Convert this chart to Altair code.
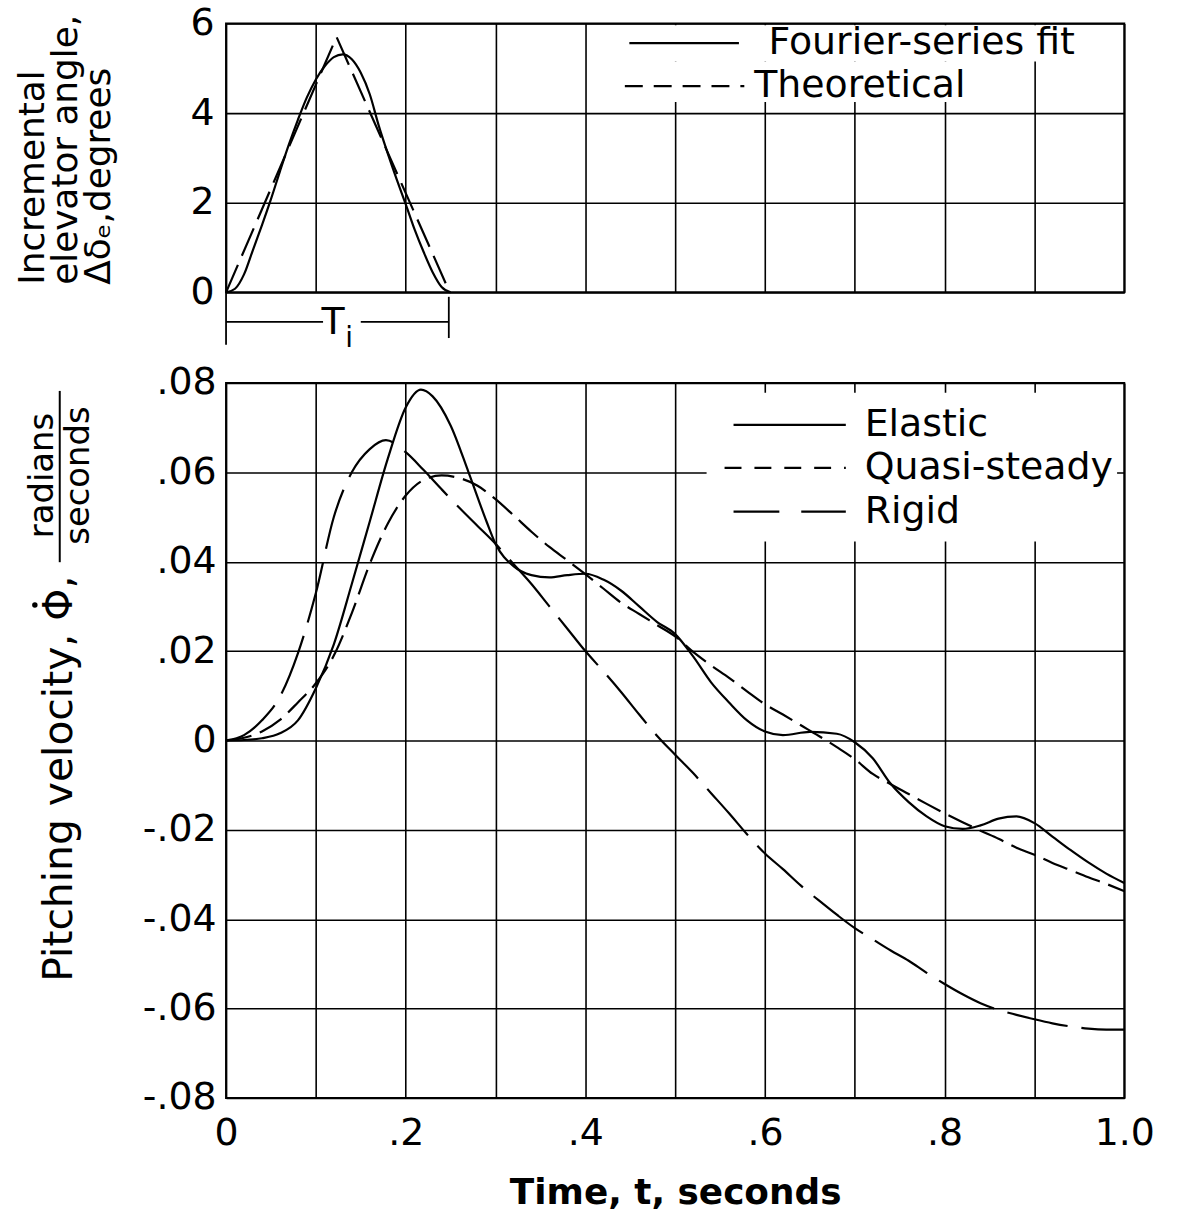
import altair as alt
import pandas as pd

FONT = "DejaVu Sans"

# ---------------- top panel: incremental elevator angle (degrees) ----------------
fourier_t = [0.00, 0.01, 0.02, 0.03, 0.04, 0.05, 0.06, 0.07, 0.08, 0.09, 0.10, 0.11, 0.12,
             0.13, 0.14, 0.15, 0.16, 0.17, 0.18, 0.19, 0.20, 0.21, 0.22, 0.23, 0.24, 0.25]
fourier_deg = [0.0, 0.08, 0.4, 0.95, 1.5, 2.08, 2.7, 3.3, 3.85, 4.35, 4.75, 5.05, 5.25,
               5.31, 5.2, 4.9, 4.42, 3.72, 3.1, 2.52, 1.97, 1.4, 0.9, 0.45, 0.12, 0.0]
theory_t = [0.0, 0.123, 0.249]
theory_deg = [0.0, 5.7, 0.0]

# ---------------- bottom panel: pitching velocity (radians/second) ----------------
elastic_t = [0.00, 0.02, 0.04, 0.06, 0.08, 0.10, 0.12, 0.14, 0.16, 0.18, 0.20, 0.217, 0.23,
             0.25, 0.27, 0.29, 0.30, 0.32, 0.34, 0.36, 0.38, 0.40, 0.42, 0.44, 0.46, 0.48,
             0.50, 0.52, 0.54, 0.56, 0.58, 0.60, 0.62, 0.65, 0.68, 0.70, 0.72, 0.74, 0.76,
             0.78, 0.80, 0.82, 0.84, 0.86, 0.88, 0.90, 0.92, 0.94, 0.96, 0.98, 1.00]
elastic_v = [0.0, 0.0001, 0.0005, 0.0016, 0.0045, 0.0117, 0.0215, 0.0350, 0.0490, 0.0630,
             0.0745, 0.0785, 0.0770, 0.0705, 0.0600, 0.0490, 0.0440, 0.0390, 0.0370, 0.0365,
             0.0370, 0.0373, 0.0360, 0.0335, 0.0300, 0.0265, 0.0238, 0.0188, 0.0130, 0.0085,
             0.0045, 0.0020, 0.0012, 0.0019, 0.0015, -0.0004, -0.0040, -0.0097, -0.0138,
             -0.0170, -0.0192, -0.0198, -0.0190, -0.0175, -0.0170, -0.0185, -0.0215, -0.0245,
             -0.0273, -0.0298, -0.0319]

quasi_t = [0.00, 0.02, 0.04, 0.06, 0.08, 0.10, 0.12, 0.14, 0.16, 0.18, 0.20, 0.22, 0.24,
           0.26, 0.28, 0.30, 0.32, 0.34, 0.36, 0.38, 0.40, 0.42, 0.44, 0.46, 0.48, 0.50,
           0.52, 0.54, 0.56, 0.58, 0.60, 0.62, 0.64, 0.66, 0.68, 0.70, 0.72, 0.74, 0.76,
           0.78, 0.80, 0.82, 0.84, 0.86, 0.88, 0.90, 0.92, 0.94, 0.96, 0.98, 1.00]
quasi_v = [0.0, 0.0006, 0.0020, 0.0046, 0.0085, 0.0128, 0.0190, 0.0285, 0.0395, 0.0485,
           0.0548, 0.0583, 0.0593, 0.0587, 0.0570, 0.0540, 0.0504, 0.0467, 0.0433, 0.0403,
           0.0372, 0.0340, 0.0308, 0.0283, 0.0258, 0.0233, 0.0198, 0.0168, 0.0140, 0.0110,
           0.0081, 0.0058, 0.0034, 0.0010, -0.0015, -0.0042, -0.0075, -0.0098, -0.0120,
           -0.0142, -0.0163, -0.0183, -0.0202, -0.0220, -0.0240, -0.0256, -0.0274, -0.0290,
           -0.0306, -0.0321, -0.0337]

rigid_t = [0.00, 0.02, 0.04, 0.06, 0.08, 0.10, 0.12, 0.14, 0.16, 0.178, 0.20, 0.22, 0.24,
           0.26, 0.28, 0.30, 0.32, 0.34, 0.36, 0.38, 0.40, 0.42, 0.44, 0.46, 0.48, 0.50,
           0.52, 0.54, 0.56, 0.58, 0.60, 0.62, 0.64, 0.66, 0.68, 0.70, 0.72, 0.74, 0.76,
           0.78, 0.80, 0.82, 0.84, 0.86, 0.88, 0.90, 0.92, 0.94, 0.96, 0.98, 1.00]
rigid_v = [0.0, 0.0012, 0.0045, 0.0098, 0.0195, 0.0330, 0.0500, 0.0600, 0.0652, 0.0672,
           0.0645, 0.0605, 0.0562, 0.0520, 0.0480, 0.0440, 0.0395, 0.0350, 0.0300, 0.0250,
           0.0200, 0.0155, 0.0108, 0.0058, 0.0010, -0.0032, -0.0073, -0.0118, -0.0163,
           -0.0210, -0.0253, -0.0288, -0.0325, -0.0358, -0.0390, -0.0420, -0.0445, -0.0470,
           -0.0493, -0.0520, -0.0545, -0.0568, -0.0588, -0.0603, -0.0614, -0.0624, -0.0633,
           -0.0640, -0.0645, -0.0647, -0.0647]

# ---------------- tick values / labels ----------------
x_grid = [0.0, 0.1, 0.2, 0.3, 0.4, 0.5, 0.6, 0.7, 0.8, 0.9, 1.0]
top_y_ticks = [0, 2, 4, 6]
bottom_y_ticks = [-0.08, -0.06, -0.04, -0.02, 0.0, 0.02, 0.04, 0.06, 0.08]

top_legend_labels = ["Fourier-series fit", "Theoretical"]
bottom_legend_labels = ["Elastic", "Quasi-steady", "Rigid"]

W = 902
LW = 2.2

# ================= TOP PANEL =================
x_top = alt.X("t:Q", scale=alt.Scale(domain=[0, 1], nice=False, zero=False),
              axis=alt.Axis(values=x_grid, labels=False, ticks=False, domain=False, title=None))
y_top = alt.Y("deg:Q", scale=alt.Scale(domain=[0, 6], nice=False),
              axis=alt.Axis(values=top_y_ticks, ticks=False, domain=False,
                            labelFontSize=38, labelPadding=12,
                            title=["Incremental", "elevator angle,", "\u0394\u03b4\u2091,degrees"],
                            titleFontSize=36, titleFontWeight="normal",
                            titleAngle=270, titleAlign="left", titleBaseline="alphabetic",
                            titleX=-183, titleY=262, titleLineHeight=33))

fourier_df = pd.DataFrame({"t": fourier_t, "deg": fourier_deg})
theory_df = pd.DataFrame({"t": theory_t, "deg": theory_deg})

fourier_line = alt.Chart(fourier_df).mark_line(
    color="black", strokeWidth=LW, interpolate="monotone").encode(x=x_top, y=y_top)
theory_line = alt.Chart(theory_df).mark_line(
    color="black", strokeWidth=LW, strokeDash=[30, 10]).encode(x="t:Q", y="deg:Q")

top_box_df = pd.DataFrame({"t": [0.42, 0.42], "t2": [0.99, 0.84],
                           "deg": [5.96, 5.15], "deg2": [5.15, 4.25]})
top_box = alt.Chart(top_box_df).mark_rect(fill="white", stroke=None).encode(
    x="t:Q", x2="t2", y="deg:Q", y2="deg2")

top_leg_df = pd.DataFrame({"t": [0.449, 0.444], "t2": [0.571, 0.577],
                           "deg": [5.56, 4.6], "tx": [0.604, 0.588],
                           "label": top_legend_labels})
top_leg_solid = alt.Chart(top_leg_df.iloc[[0]]).mark_rule(
    color="black", strokeWidth=LW).encode(x="t:Q", x2="t2", y="deg:Q")
top_leg_dash = alt.Chart(top_leg_df.iloc[[1]]).mark_rule(
    color="black", strokeWidth=LW, strokeDash=[18, 11]).encode(x="t:Q", x2="t2", y="deg:Q")
top_leg_text = alt.Chart(top_leg_df).mark_text(
    font=FONT, fontSize=38, align="left", baseline="middle", color="black").encode(
    x="tx:Q", y="deg:Q", text="label:N")

# T_i bracket under the pulse
ti_rules_df = pd.DataFrame({"t": [0.0, 0.248, 0.0, 0.15],
                            "t2": [0.0, 0.248, 0.108, 0.248],
                            "deg": [0.0, -0.1, -0.66, -0.66],
                            "deg2": [-1.17, -1.02, -0.66, -0.66]})
ti_rules = alt.Chart(ti_rules_df).mark_rule(color="black", strokeWidth=1.8).encode(
    x="t:Q", x2="t2", y="deg:Q", y2="deg2")
ti_text_df = pd.DataFrame({"t": [0.119, 0.137], "deg": [-0.69, -1.05],
                           "label": ["T", "i"]})
ti_T = alt.Chart(ti_text_df.iloc[[0]]).mark_text(
    font=FONT, fontSize=38, baseline="middle", align="center", color="black").encode(
    x="t:Q", y="deg:Q", text="label:N")
ti_i = alt.Chart(ti_text_df.iloc[[1]]).mark_text(
    font=FONT, fontSize=28, baseline="middle", align="center", color="black").encode(
    x="t:Q", y="deg:Q", text="label:N")

top = alt.layer(fourier_line, theory_line, top_box, top_leg_solid, top_leg_dash,
                top_leg_text, ti_rules, ti_T, ti_i).properties(width=W, height=270)

# ================= BOTTOM PANEL =================
x_bot = alt.X("t:Q", scale=alt.Scale(domain=[0, 1], nice=False, zero=False),
              axis=alt.Axis(values=x_grid, ticks=False, domain=False,
                            labelFontSize=38, labelPadding=17, labelFlush=False,
                            labelExpr=("round(datum.value*10) % 2 == 0 ? "
                                       "(datum.value == 0 ? '0' : (datum.value > 0.99 ? '1.0' : "
                                       "replace(format(datum.value, '.1f'), '0.', '.'))) : ''"),
                            title="Time, t, seconds", titleFontSize=36,
                            titleFontWeight="bold", titlePadding=23))
y_bot = alt.Y("v:Q", scale=alt.Scale(domain=[-0.08, 0.08], nice=False, zero=False),
              axis=alt.Axis(values=bottom_y_ticks, ticks=False, domain=False,
                            labelFontSize=38, labelPadding=10,
                            labelExpr=("abs(datum.value) < 0.001 ? '0' : "
                                       "replace(replace(format(datum.value, '.2f'), '\u2212', '-'), '0.', '.')"),
                            title="Pitching   velocity, \u03a6,",
                            titleFontSize=41, titleFontWeight="normal",
                            titleAngle=270, titleAlign="right", titleBaseline="alphabetic",
                            titleX=-155, titleY=193))

elastic_line = alt.Chart(pd.DataFrame({"t": elastic_t, "v": elastic_v})).mark_line(
    color="black", strokeWidth=LW, interpolate="monotone").encode(x=x_bot, y=y_bot)
quasi_line = alt.Chart(pd.DataFrame({"t": quasi_t, "v": quasi_v})).mark_line(
    color="black", strokeWidth=LW, interpolate="monotone", strokeDash=[26, 9]).encode(
    x="t:Q", y="v:Q")
rigid_line = alt.Chart(pd.DataFrame({"t": rigid_t, "v": rigid_v})).mark_line(
    color="black", strokeWidth=LW, interpolate="monotone", strokeDash=[62, 14]).encode(
    x="t:Q", y="v:Q")

bot_box_df = pd.DataFrame({"t": [0.535], "t2": [0.992], "v": [0.0778], "v2": [0.0445]})
bot_box = alt.Chart(bot_box_df).mark_rect(fill="white", stroke=None).encode(
    x="t:Q", x2="t2", y="v:Q", y2="v2")

bot_leg_df = pd.DataFrame({"t": [0.565, 0.555, 0.565], "t2": [0.69, 0.69, 0.69],
                           "v": [0.0706, 0.0610, 0.0512], "tx": [0.711, 0.711, 0.711],
                           "label": bottom_legend_labels})
leg_el = alt.Chart(bot_leg_df.iloc[[0]]).mark_rule(color="black", strokeWidth=LW).encode(
    x="t:Q", x2="t2", y="v:Q")
leg_qs = alt.Chart(bot_leg_df.iloc[[1]]).mark_rule(
    color="black", strokeWidth=LW, strokeDash=[17, 13]).encode(x="t:Q", x2="t2", y="v:Q")
leg_rg = alt.Chart(bot_leg_df.iloc[[2]]).mark_rule(
    color="black", strokeWidth=LW, strokeDash=[46, 22]).encode(x="t:Q", x2="t2", y="v:Q")
leg_text = alt.Chart(bot_leg_df).mark_text(
    font=FONT, fontSize=38, align="left", baseline="middle", color="black").encode(
    x="tx:Q", y="v:Q", text="label:N")

# fraction  radians / seconds  next to the rotated axis title, and the dot over Phi
frac_df = pd.DataFrame({"label": ["radians", "seconds"]})
frac_num = alt.Chart(frac_df.iloc[[0]]).mark_text(
    font=FONT, fontSize=34, angle=270, align="center", baseline="alphabetic",
    color="black").encode(text="label:N", x=alt.value(-174), y=alt.value(93))
frac_den = alt.Chart(frac_df.iloc[[1]]).mark_text(
    font=FONT, fontSize=34, angle=270, align="center", baseline="alphabetic",
    color="black").encode(text="label:N", x=alt.value(-138), y=alt.value(93))
frac_bar = alt.Chart(frac_df.iloc[[0]]).mark_rule(color="black", strokeWidth=2).encode(
    x=alt.value(-167), y=alt.value(8), y2=alt.value(180))
phi_dot = alt.Chart(frac_df.iloc[[0]]).mark_point(
    filled=True, color="black", size=30, opacity=1).encode(
    x=alt.value(-192), y=alt.value(223))

bottom = alt.layer(elastic_line, quasi_line, rigid_line, bot_box, leg_el, leg_qs, leg_rg,
                   leg_text, frac_num, frac_den, frac_bar, phi_dot).properties(width=W, height=718)

chart = alt.vconcat(top, bottom, spacing=8).properties(
    padding={"left": 13, "top": 1, "right": 30, "bottom": 5},
    background="white",
).configure_axis(
    gridColor="black", gridOpacity=1, gridWidth=1.6,
    labelColor="black", labelFont=FONT, titleColor="black", titleFont=FONT,
).configure_view(stroke="black", strokeWidth=2)

chart.save("out.html", embed_options={"renderer": "svg", "actions": False})
